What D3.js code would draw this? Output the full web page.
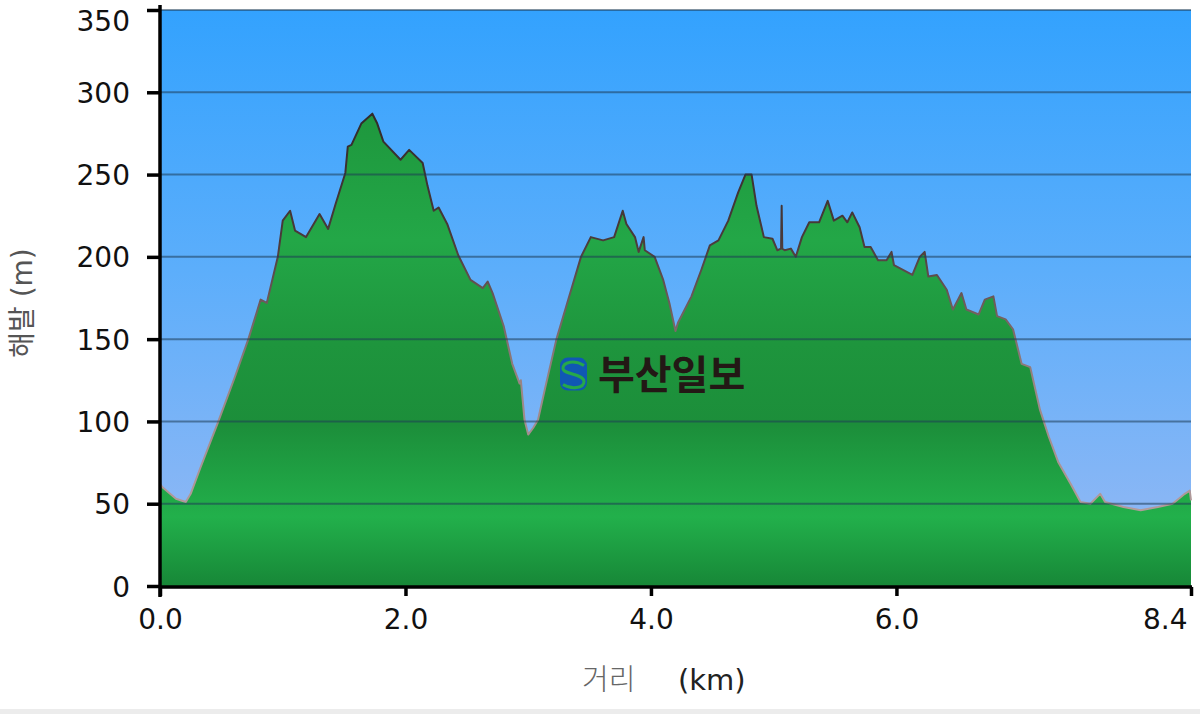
<!DOCTYPE html>
<html>
<head>
<meta charset="utf-8">
<script src="https://cdnjs.cloudflare.com/ajax/libs/d3/7.8.5/d3.min.js"></script>
<style>
  body { margin:0; background:#fff; }
  text { font-family: Verdana, "DejaVu Sans", "Noto Sans CJK KR", sans-serif; }
</style>
</head>
<body>
<div id="chart-area"></div>
<script>
// distance along the trail (km) and elevation (m)
var distance = [0.00,0.02,0.13,0.21,0.25,0.33,0.47,0.61,0.72,0.82,0.87,0.96,1.00,1.06,1.10,1.19,1.30,1.37,1.43,1.51,
    1.53,1.56,1.64,1.73,1.77,1.82,1.96,2.03,2.14,2.18,2.23,2.27,2.34,2.43,2.53,2.63,2.67,2.71,2.80,2.87,
    2.93,2.94,2.97,3.00,3.04,3.08,3.14,3.23,3.31,3.43,3.51,3.61,3.70,3.77,3.80,3.87,3.90,3.94,3.95,4.03,
    4.10,4.15,4.20,4.22,4.33,4.41,4.48,4.55,4.63,4.71,4.77,4.82,4.86,4.92,4.99,5.03,5.06,5.065,5.07,5.09,
    5.14,5.18,5.23,5.29,5.37,5.44,5.49,5.56,5.60,5.64,5.70,5.74,5.79,5.85,5.92,5.96,5.98,6.13,6.19,6.23,
    6.26,6.33,6.41,6.46,6.53,6.57,6.67,6.72,6.79,6.82,6.89,6.95,7.02,7.09,7.17,7.24,7.32,7.42,7.50,7.58,
    7.66,7.70,7.85,7.99,8.13,8.25,8.35,8.39,8.40];
var elevation = [62,60,53,51,56,72,99,127,150,174,172,200,222,228,216,212,226,217,232,251,
    267,268,281,287,281,270,259,265,257,243,228,230,220,201,186,181,185,178,158,135,
    123,125,101,92,96,101,121,150,170,200,212,210,212,228,220,212,203,212,204,200,
    186,172,155,160,176,192,207,210,222,239,250,250,231,212,211,204,205,231,205,204,
    205,200,212,221,221,234,222,225,221,227,218,206,206,198,198,203,195,189,200,203,
    188,189,180,168,178,168,165,174,176,164,162,156,135,133,107,91,75,62,51,50,
    56,51,48,46,48,50,56,58,52];

var xTicks = [0, 2, 4, 6, 8.4];
var yTicks = [0, 50, 100, 150, 200, 250, 300, 350];

var margin = { left:160, right:9, top:10, bottom:128 };
var width = 1200 - margin.left - margin.right,
    height = 714 - margin.top - margin.bottom;

var svg = d3.select("#chart-area")
    .append("svg")
        .attr("width", 1200)
        .attr("height", 714);

var defs = svg.append("defs");

// sky gradient
var sky = defs.append("linearGradient")
    .attr("id", "sky")
    .attr("x1", 0).attr("y1", 0).attr("x2", 0).attr("y2", 1);
sky.append("stop").attr("offset", "0%").attr("stop-color", "#33a2fe");
sky.append("stop").attr("offset", "45%").attr("stop-color", "#5caefb");
sky.append("stop").attr("offset", "100%").attr("stop-color", "#98b9f3");

// green fill, banded like the original
var hill = defs.append("linearGradient")
    .attr("id", "hill")
    .attr("gradientUnits", "userSpaceOnUse")
    .attr("x1", 0).attr("y1", 0).attr("x2", 0).attr("y2", height);
hill.append("stop").attr("offset", "0%").attr("stop-color", "#1c8a38");
hill.append("stop").attr("offset", "22%").attr("stop-color", "#1f9a3f");
hill.append("stop").attr("offset", "40%").attr("stop-color", "#23a747");
hill.append("stop").attr("offset", "58%").attr("stop-color", "#1e953d");
hill.append("stop").attr("offset", "72%").attr("stop-color", "#1c8e3a");
hill.append("stop").attr("offset", "88%").attr("stop-color", "#22b04b");
hill.append("stop").attr("offset", "100%").attr("stop-color", "#178737");

// outline goes from dark at the top to greyish pink lower down
var edge = defs.append("linearGradient")
    .attr("id", "edge")
    .attr("gradientUnits", "userSpaceOnUse")
    .attr("x1", 0).attr("y1", 0).attr("x2", 0).attr("y2", height);
edge.append("stop").attr("offset", "0%").attr("stop-color", "#1e1e1e");
edge.append("stop").attr("offset", "40%").attr("stop-color", "#4a3a3a");
edge.append("stop").attr("offset", "65%").attr("stop-color", "#9a8585");
edge.append("stop").attr("offset", "100%").attr("stop-color", "#c0a8a8");

var g = svg.append("g")
    .attr("transform", "translate(" + margin.left + "," + margin.top + ")");

// scales
var x = d3.scaleLinear()
    .domain([0, 8.4])
    .range([0, width]);
var y = d3.scaleLinear()
    .domain([0, 350])
    .range([height, 0]);

// background
g.append("rect")
    .attr("width", width)
    .attr("height", height)
    .attr("fill", "url(#sky)");

var data = distance.map(function(d, i){ return { km: d, m: elevation[i] }; });

var area = d3.area()
    .x(function(d){ return x(d.km); })
    .y0(height)
    .y1(function(d){ return y(d.m); });
var line = d3.line()
    .x(function(d){ return x(d.km); })
    .y(function(d){ return y(d.m); });

g.append("path")
    .datum(data)
    .attr("d", area)
    .attr("fill", "url(#hill)");
g.append("path")
    .datum(data)
    .attr("d", line)
    .attr("fill", "none")
    .attr("stroke", "url(#edge)")
    .attr("stroke-width", 2)
    .attr("stroke-linejoin", "round");

// grid lines sit on top of the fill
g.selectAll(".grid")
    .data(yTicks.slice(1))
    .enter().append("line")
        .attr("class", "grid")
        .attr("x1", 0)
        .attr("x2", width)
        .attr("y1", function(d){ return y(d); })
        .attr("y2", function(d){ return y(d); })
        .attr("stroke", "#1d3c55")
        .attr("stroke-opacity", 0.55)
        .attr("stroke-width", 2);

// watermark
var mark = g.append("g")
    .attr("transform", "translate(400," + (y(137)) + ")");
mark.append("rect")
    .attr("x", 0).attr("y", -3)
    .attr("width", 27).attr("height", 33)
    .attr("rx", 8)
    .attr("fill", "#1058b4");
mark.append("path")
    .attr("d", "M24,5 C15,-1 3,1 3,8 C3,14 24,13 24,21 C24,28 11,29 3,24")
    .attr("fill", "none")
    .attr("stroke", "#26a84a")
    .attr("stroke-width", 3);
mark.append("text")
    .attr("x", 38)
    .attr("y", 28)
    .attr("font-size", "40px")
    .attr("font-weight", "bold")
    .attr("fill", "#231815")
    .style("font-family", "'Noto Sans CJK KR', sans-serif")
    .text("부산일보");

// axes
var yAxisCall = d3.axisLeft(y)
    .tickValues(yTicks)
    .tickSize(13)
    .tickPadding(17);
var yAxis = g.append("g").call(yAxisCall);

var xAxisCall = d3.axisBottom(x)
    .tickValues(xTicks)
    .tickSize(9)
    .tickFormat(d3.format(".1f"))
    .tickPadding(10);
var xAxis = g.append("g")
    .attr("transform", "translate(0," + (height + 1) + ")")
    .call(xAxisCall);

[yAxis, xAxis].forEach(function(a){
    a.select(".domain").remove();
    a.selectAll(".tick line")
        .attr("stroke", "#000")
        .attr("stroke-width", 3.5);
    a.selectAll(".tick text")
        .attr("fill", "#111")
        .attr("font-size", "28px");
});
yAxis.selectAll(".tick text")
    .attr("dy", function(d){ return d === 350 ? "0.72em" : "0.36em"; });
xAxis.selectAll(".tick text")
    .attr("dy", "0.82em")
    .attr("text-anchor", function(d){ return d === 8.4 ? "end" : "middle"; })
    .attr("x", function(d){ return d === 8.4 ? -4 : 0; });

// heavy axis lines
g.append("line")
    .attr("x1", 0).attr("x2", 0)
    .attr("y1", -5).attr("y2", height + 11)
    .attr("stroke", "#000").attr("stroke-width", 3.5);
g.append("line")
    .attr("x1", 0).attr("x2", width + 1)
    .attr("y1", height + 1).attr("y2", height + 1)
    .attr("stroke", "#000").attr("stroke-width", 3.5);

// axis titles
g.append("text")
    .attr("transform", "rotate(-90)")
    .attr("x", -293)
    .attr("y", -128)
    .attr("font-size", "28px")
    .attr("fill", "#555")
    .attr("text-anchor", "middle")
    .text("해발 (m)");
var xTitle = g.append("text")
    .attr("y", height + 104)
    .attr("font-size", "29px");
xTitle.append("tspan")
    .attr("x", 422)
    .attr("fill", "#666")
    .style("font-family", "'Noto Sans CJK KR', sans-serif")
    .style("font-weight", "300")
    .text("거리");
xTitle.append("tspan")
    .attr("x", 518)
    .attr("fill", "#222")
    .text("(km)");

// light strip at the bottom edge
svg.append("rect")
    .attr("x", 0).attr("y", 709)
    .attr("width", 1200).attr("height", 5)
    .attr("fill", "#ececec");
</script>
</body>
</html>
